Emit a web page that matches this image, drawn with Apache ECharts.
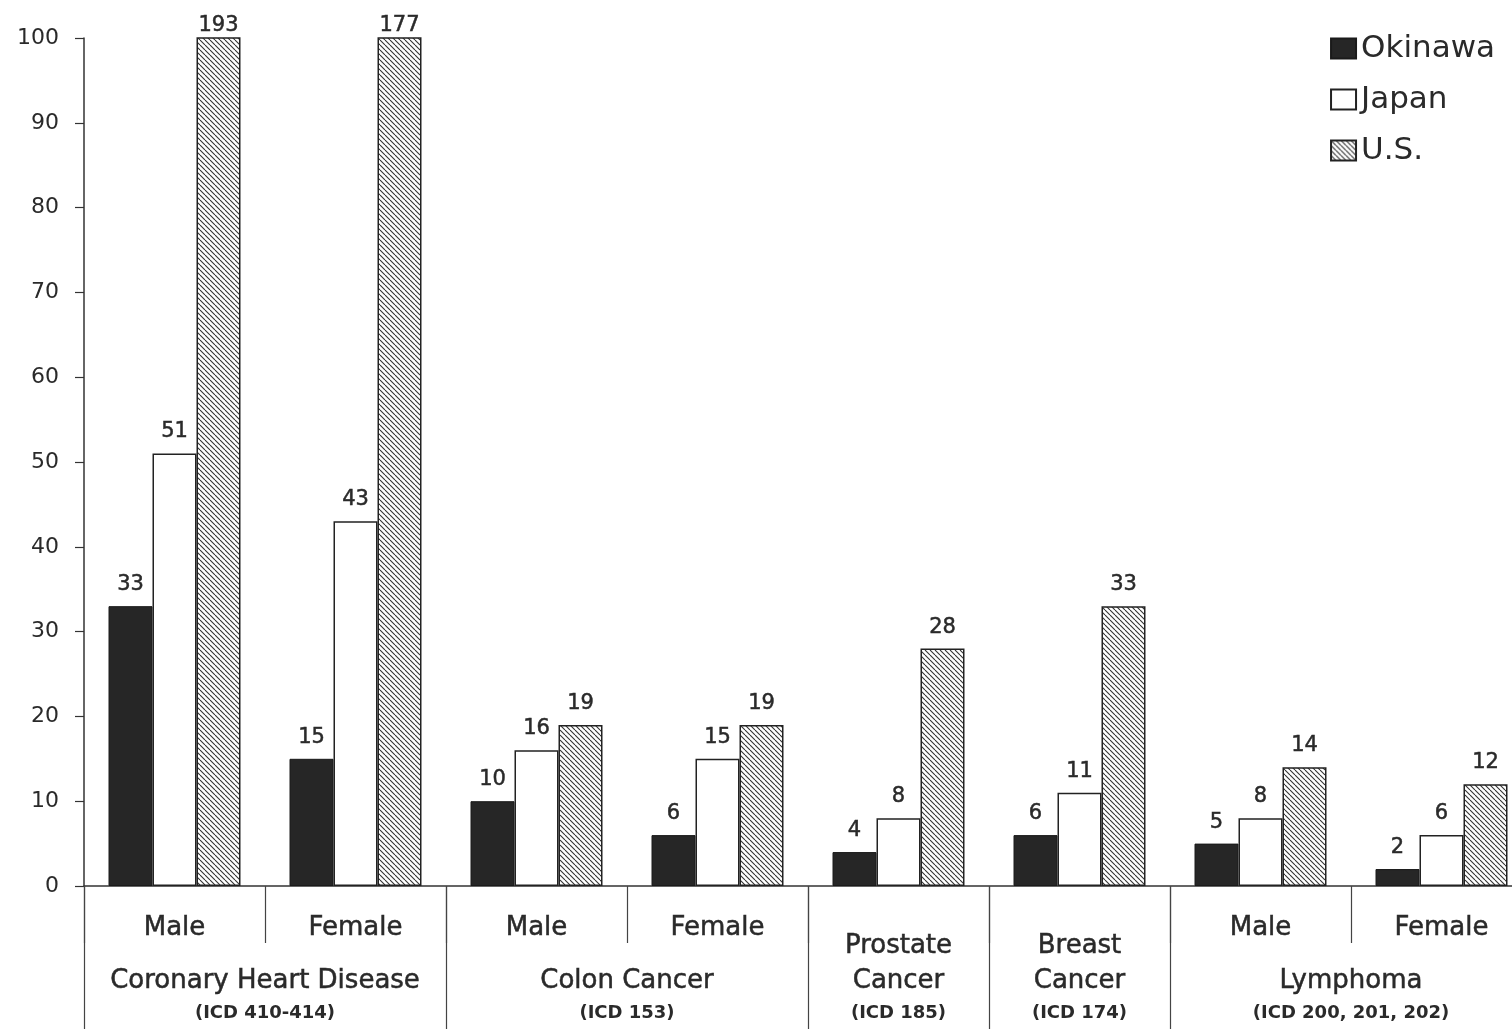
<!DOCTYPE html>
<html><head><meta charset="utf-8">
<script src="https://cdn.jsdelivr.net/npm/echarts@6/dist/echarts.min.js"></script>
<style>html,body{margin:0;padding:0;background:#fff;overflow:hidden}#c{width:1512px;height:1029px}</style>
</head><body><div id="c"></div>
<script>
// ---- data ----
const categories = ['CHD Male','CHD Female','Colon Male','Colon Female','Prostate','Breast','Lymphoma Male','Lymphoma Female'];
const sexLabels = ['Male','Female','Male','Female','','','Male','Female'];
const seriesNames = ['Okinawa','Japan','U.S.'];
const okinawa = [33,15,10,6,4,6,5,2];
const japan = [51,43,16,15,8,11,8,6];
const us = [193,177,19,19,28,33,14,12];
const groupTop = ['','','Prostate','Breast',''];
const groupNames = ['Coronary Heart Disease','Colon Cancer','Cancer','Cancer','Lymphoma'];
const groupCodes = ['(ICD 410-414)','(ICD 153)','(ICD 185)','(ICD 174)','(ICD 200, 201, 202)'];
const groupStart = [0,2,4,5,6];
const groupSpan = [2,2,1,1,2];
const yMin = 0, yMax = 100, yInterval = 10;

// ---- build ----
const FONT = 'DejaVu Sans';
const TXT = '#2a2a2a';

function hatch() {
  const s = 5;
  const c = document.createElement('canvas');
  c.width = s; c.height = s;
  const g = c.getContext('2d');
  g.fillStyle = '#fff'; g.fillRect(0,0,s,s);
  g.strokeStyle = '#333'; g.lineWidth = 1.1;
  for (const k of [-s, 0, s]) {
    g.beginPath(); g.moveTo(k, 0); g.lineTo(k + s, s); g.stroke();
  }
  return c;
}
const hatchPattern = { image: hatch(), repeat: 'repeat' };

// half-band positions for group labels (17 points across 8 bands)
const halfPts = [];
for (let i = 0; i <= categories.length * 2; i++) halfPts.push('p' + i);
const groupAt = {};
groupStart.forEach((s, g) => { groupAt[s * 2 + groupSpan[g]] = g; });

const thick = { textBorderColor: TXT, textBorderWidth: 0.5 };
const labelStyle = Object.assign({ color: TXT, fontFamily: FONT, fontSize: 21, distance: 11 }, thick);

const chart = echarts.init(document.getElementById('c'), null, { renderer: 'canvas' });
chart.setOption({
  animation: false,
  backgroundColor: '#fff',
  textStyle: { fontFamily: FONT },
  legend: {
    orient: 'vertical', right: 12, top: 28,
    itemWidth: 25, itemHeight: 20, itemGap: 20,
    icon: 'rect',
    textStyle: { fontSize: 31, color: TXT, fontFamily: FONT },
    data: seriesNames
  },
  grid: { left: 84, top: 38, bottom: 143, width: 1448, containLabel: false, outerBoundsMode: 'none' },
  xAxis: [
    {
      type: 'category', position: 'bottom', data: categories,
      axisLine: { show: true, lineStyle: { color: '#333', width: 1.5 } },
      axisTick: { show: true, length: 57, interval: 0, lineStyle: { color: '#444', width: 1.2 } },
      axisLabel: Object.assign({
        interval: 0, margin: 29, color: TXT, fontSize: 26, fontFamily: FONT,
        formatter: (v, i) => sexLabels[i]
      }, thick)
    },
    {
      type: 'category', position: 'bottom', data: categories,
      axisLine: { show: false },
      axisTick: { show: true, length: 145, interval: (i) => groupStart.indexOf(i) >= 0,
                  lineStyle: { color: '#444', width: 1.2 } },
      axisLabel: { show: false }
    },
    {
      type: 'category', position: 'bottom', data: halfPts, boundaryGap: false,
      axisLine: { show: false }, axisTick: { show: false },
      axisLabel: {
        interval: 0, margin: 43, color: TXT, fontFamily: FONT,
        formatter: (v, i) => {
          const g = groupAt[i];
          if (g === undefined) return '';
          return '{a|' + (groupTop[g] || ' ') + '}\n{a|' + groupNames[g] + '}\n{s|' + groupCodes[g] + '}';
        },
        rich: {
          a: Object.assign({ fontSize: 26, lineHeight: 35, color: TXT, fontFamily: FONT, align: 'center' }, thick),
          s: { fontSize: 18, lineHeight: 28, color: TXT, fontFamily: FONT, fontWeight: 'bold', align: 'center' }
        }
      }
    }
  ],
  yAxis: {
    type: 'value', min: yMin, max: yMax, interval: yInterval,
    axisLine: { show: true, lineStyle: { color: '#333', width: 1.5 } },
    axisTick: { show: true, length: 9, lineStyle: { color: '#333', width: 1.2 } },
    splitLine: { show: false },
    axisLabel: { color: TXT, fontSize: 22, fontFamily: FONT, margin: 25 }
  },
  series: [
    {
      name: seriesNames[0], type: 'bar', data: okinawa, barWidth: 44, barGap: '0%',
      itemStyle: { color: '#262626', borderColor: '#1a1a1a', borderWidth: 1 },
      label: Object.assign({ show: true, position: 'top' }, labelStyle)
    },
    {
      name: seriesNames[1], type: 'bar', data: japan, barWidth: 44, barGap: '0%',
      itemStyle: { color: '#ffffff', borderColor: '#222', borderWidth: 1.5 },
      label: Object.assign({ show: true, position: 'top' }, labelStyle)
    },
    {
      name: seriesNames[2], type: 'bar', barWidth: 44, barGap: '0%',
      data: us.map(v => v > yMax ? { value: v, label: { distance: 1 } } : v),
      itemStyle: { color: hatchPattern, borderColor: '#222', borderWidth: 1.5 },
      label: Object.assign({ show: true, position: 'top' }, labelStyle)
    }
  ]
});
</script>
</body></html>
